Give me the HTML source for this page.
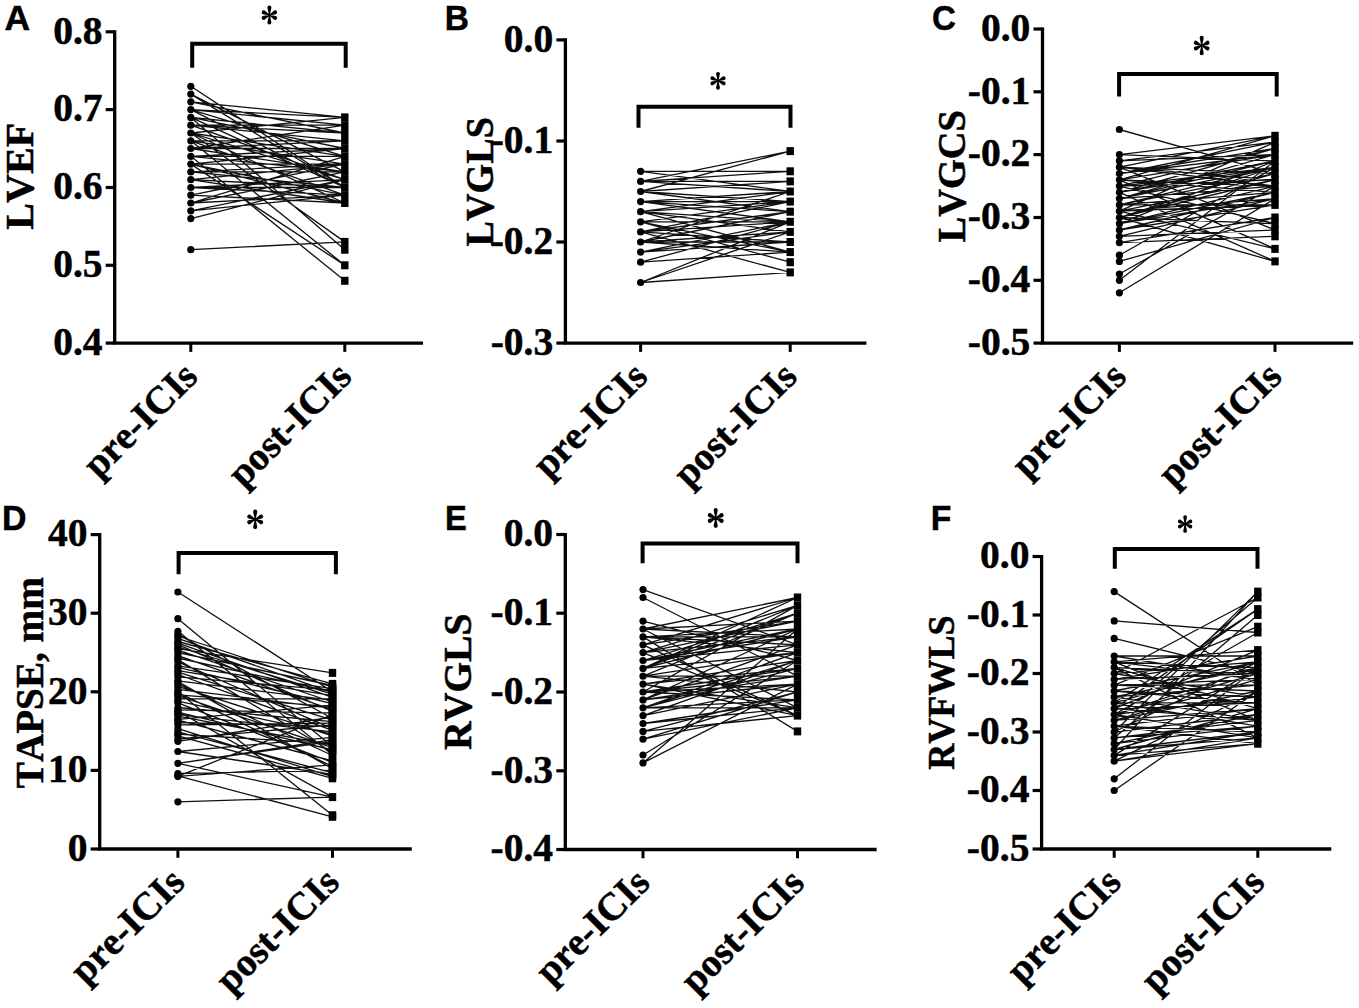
<!DOCTYPE html>
<html><head><meta charset="utf-8"><style>
html,body{margin:0;padding:0;background:#fff;overflow:hidden;}
svg{display:block;}
text{font-kerning:none;stroke:#000;stroke-width:0.5px;}
</style></head><body>
<svg width="1359" height="1008" viewBox="0 0 1359 1008">
<rect width="1359" height="1008" fill="#fff"/>
<g><path d="M190.8 249.7L344.8 241.9M190.8 156.3L344.8 280.8M190.8 140.8L344.8 265.3M190.8 164.1L344.8 265.3M190.8 117.4L344.8 249.7M190.8 133.0L344.8 241.9M190.8 86.3L344.8 187.5M190.8 94.1L344.8 171.9M190.8 109.6L344.8 117.4M190.8 171.9L344.8 164.1M190.8 210.8L344.8 195.2M190.8 148.5L344.8 140.8M190.8 148.5L344.8 125.2M190.8 171.9L344.8 171.9M190.8 164.1L344.8 148.5M190.8 156.3L344.8 171.9M190.8 156.3L344.8 171.9M190.8 117.4L344.8 187.5M190.8 109.6L344.8 156.3M190.8 117.4L344.8 148.5M190.8 133.0L344.8 117.4M190.8 117.4L344.8 133.0M190.8 203.0L344.8 156.3M190.8 125.2L344.8 140.8M190.8 140.8L344.8 164.1M190.8 164.1L344.8 203.0M190.8 171.9L344.8 187.5M190.8 179.7L344.8 164.1M190.8 187.5L344.8 187.5M190.8 109.6L344.8 187.5M190.8 203.0L344.8 195.2M190.8 140.8L344.8 195.2M190.8 218.6L344.8 179.7M190.8 101.8L344.8 133.0M190.8 187.5L344.8 179.7M190.8 140.8L344.8 140.8M190.8 195.2L344.8 203.0M190.8 148.5L344.8 148.5M190.8 179.7L344.8 187.5M190.8 195.2L344.8 203.0M190.8 101.8L344.8 117.4M190.8 187.5L344.8 195.2M190.8 133.0L344.8 179.7M190.8 125.2L344.8 133.0M190.8 109.6L344.8 125.2M190.8 156.3L344.8 156.3M190.8 148.5L344.8 171.9M190.8 179.7L344.8 203.0M190.8 94.1L344.8 187.5M190.8 133.0L344.8 203.0M190.8 171.9L344.8 171.9M190.8 210.8L344.8 179.7M190.8 125.2L344.8 179.7M190.8 164.1L344.8 164.1M190.8 203.0L344.8 171.9M190.8 133.0L344.8 156.3M190.8 164.1L344.8 195.2M190.8 140.8L344.8 140.8M190.8 187.5L344.8 195.2M190.8 218.6L344.8 179.7M190.8 195.2L344.8 164.1M190.8 156.3L344.8 148.5M190.8 125.2L344.8 125.2" stroke="#111" stroke-width="1.3" fill="none"/>
<g fill="#000">
<circle cx="190.8" cy="249.7" r="3.6"/>
<circle cx="190.8" cy="218.6" r="3.6"/>
<circle cx="190.8" cy="210.8" r="3.6"/>
<circle cx="190.8" cy="203.0" r="3.6"/>
<circle cx="190.8" cy="195.2" r="3.6"/>
<circle cx="190.8" cy="187.5" r="3.6"/>
<circle cx="190.8" cy="179.7" r="3.6"/>
<circle cx="190.8" cy="171.9" r="3.6"/>
<circle cx="190.8" cy="164.1" r="3.6"/>
<circle cx="190.8" cy="156.3" r="3.6"/>
<circle cx="190.8" cy="148.5" r="3.6"/>
<circle cx="190.8" cy="140.8" r="3.6"/>
<circle cx="190.8" cy="133.0" r="3.6"/>
<circle cx="190.8" cy="125.2" r="3.6"/>
<circle cx="190.8" cy="117.4" r="3.6"/>
<circle cx="190.8" cy="109.6" r="3.6"/>
<circle cx="190.8" cy="101.8" r="3.6"/>
<circle cx="190.8" cy="94.1" r="3.6"/>
<circle cx="190.8" cy="86.3" r="3.6"/>
<rect x="341.1" y="276.8" width="7.4" height="8.0"/>
<rect x="341.1" y="261.3" width="7.4" height="8.0"/>
<rect x="341.1" y="245.7" width="7.4" height="8.0"/>
<rect x="341.1" y="237.9" width="7.4" height="8.0"/>
<rect x="341.1" y="199.0" width="7.4" height="8.0"/>
<rect x="341.1" y="191.2" width="7.4" height="8.0"/>
<rect x="341.1" y="183.5" width="7.4" height="8.0"/>
<rect x="341.1" y="175.7" width="7.4" height="8.0"/>
<rect x="341.1" y="167.9" width="7.4" height="8.0"/>
<rect x="341.1" y="160.1" width="7.4" height="8.0"/>
<rect x="341.1" y="152.3" width="7.4" height="8.0"/>
<rect x="341.1" y="144.5" width="7.4" height="8.0"/>
<rect x="341.1" y="136.8" width="7.4" height="8.0"/>
<rect x="341.1" y="129.0" width="7.4" height="8.0"/>
<rect x="341.1" y="121.2" width="7.4" height="8.0"/>
<rect x="341.1" y="113.4" width="7.4" height="8.0"/>
</g>
<path d="M114.7 30.2V343.1H423" stroke="#000" stroke-width="3.3" fill="none"/>
<path d="M105.7 31.8H114.7" stroke="#000" stroke-width="3.2"/>
<text x="102.5" y="43.6" text-anchor="end" font-family="'Liberation Serif', serif" font-weight="bold" font-size="39.5">0.8</text>
<path d="M105.7 109.6H114.7" stroke="#000" stroke-width="3.2"/>
<text x="102.5" y="121.4" text-anchor="end" font-family="'Liberation Serif', serif" font-weight="bold" font-size="39.5">0.7</text>
<path d="M105.7 187.5H114.7" stroke="#000" stroke-width="3.2"/>
<text x="102.5" y="199.3" text-anchor="end" font-family="'Liberation Serif', serif" font-weight="bold" font-size="39.5">0.6</text>
<path d="M105.7 265.3H114.7" stroke="#000" stroke-width="3.2"/>
<text x="102.5" y="277.1" text-anchor="end" font-family="'Liberation Serif', serif" font-weight="bold" font-size="39.5">0.5</text>
<path d="M105.7 343.1H114.7" stroke="#000" stroke-width="3.2"/>
<text x="102.5" y="354.9" text-anchor="end" font-family="'Liberation Serif', serif" font-weight="bold" font-size="39.5">0.4</text>
<path d="M190.8 343.1v8.8" stroke="#000" stroke-width="3"/>
<path d="M344.8 343.1v8.8" stroke="#000" stroke-width="3"/>
<text transform="translate(199.6,378.4) rotate(-45)" text-anchor="end" font-family="'Liberation Serif', serif" font-weight="bold" font-size="39">pre-ICIs</text>
<text transform="translate(353.6,378.4) rotate(-45)" text-anchor="end" font-family="'Liberation Serif', serif" font-weight="bold" font-size="39">post-ICIs</text>
<path d="M192.2 67.7V43.7H345.7V67.7" stroke="#000" stroke-width="4.0" fill="none"/>
<path transform="translate(269.4,15.1) scale(1.000,1.022)" d="M0.45,0.00L2.00,-7.30A2.0,2.0 0 1 0 -2.00,-7.30L-0.45,-0.00ZM-0.45,-0.00L-2.00,7.30A2.0,2.0 0 1 0 2.00,7.30L0.45,0.00ZM0.19,-0.41L-4.77,-4.43A2.0,2.0 0 1 0 -6.46,-0.81L-0.19,0.41ZM-0.19,-0.41L-6.46,0.81A2.0,2.0 0 1 0 -4.77,4.43L0.19,0.41ZM0.19,0.41L6.46,-0.81A2.0,2.0 0 1 0 4.77,-4.43L-0.19,-0.41ZM-0.19,0.41L4.77,4.43A2.0,2.0 0 1 0 6.46,0.81L0.19,-0.41Z" fill="#000"/><circle cx="269.4" cy="15.1" r="1.3"/>
<text transform="translate(33.3,229.7) rotate(-90)" textLength="106.8" lengthAdjust="spacingAndGlyphs" font-family="'Liberation Serif', serif" font-weight="bold" font-size="39.5">LVEF</text>
<text x="4.42" y="29.8" textLength="25.62" lengthAdjust="spacingAndGlyphs" font-family="'Liberation Sans', sans-serif" font-weight="bold" font-size="35">A</text></g>
<g><path d="M640.6 171.3L790.2 171.3M640.6 181.4L790.2 151.1M640.6 191.5L790.2 151.1M640.6 282.5L790.2 272.4M640.6 282.5L790.2 231.9M640.6 282.5L790.2 221.8M640.6 221.8L790.2 262.2M640.6 242.0L790.2 231.9M640.6 242.0L790.2 242.0M640.6 242.0L790.2 242.0M640.6 252.1L790.2 242.0M640.6 171.3L790.2 191.5M640.6 221.8L790.2 252.1M640.6 231.9L790.2 201.6M640.6 252.1L790.2 221.8M640.6 242.0L790.2 242.0M640.6 181.4L790.2 181.4M640.6 242.0L790.2 252.1M640.6 211.7L790.2 231.9M640.6 262.2L790.2 252.1M640.6 181.4L790.2 181.4M640.6 201.6L790.2 201.6M640.6 221.8L790.2 252.1M640.6 231.9L790.2 221.8M640.6 211.7L790.2 221.8M640.6 201.6L790.2 211.7M640.6 231.9L790.2 211.7M640.6 221.8L790.2 262.2M640.6 211.7L790.2 252.1M640.6 231.9L790.2 272.4M640.6 231.9L790.2 201.6M640.6 252.1L790.2 231.9M640.6 191.5L790.2 211.7M640.6 201.6L790.2 211.7M640.6 191.5L790.2 181.4M640.6 262.2L790.2 221.8M640.6 211.7L790.2 231.9M640.6 252.1L790.2 231.9M640.6 242.0L790.2 191.5M640.6 221.8L790.2 201.6M640.6 252.1L790.2 242.0M640.6 211.7L790.2 201.6M640.6 181.4L790.2 191.5M640.6 211.7L790.2 191.5M640.6 201.6L790.2 191.5M640.6 191.5L790.2 201.6M640.6 221.8L790.2 221.8M640.6 252.1L790.2 231.9M640.6 191.5L790.2 211.7M640.6 201.6L790.2 191.5M640.6 231.9L790.2 242.0M640.6 242.0L790.2 211.7M640.6 181.4L790.2 171.3M640.6 201.6L790.2 221.8M640.6 191.5L790.2 181.4" stroke="#111" stroke-width="1.3" fill="none"/>
<g fill="#000">
<circle cx="640.6" cy="282.5" r="3.6"/>
<circle cx="640.6" cy="262.2" r="3.6"/>
<circle cx="640.6" cy="252.1" r="3.6"/>
<circle cx="640.6" cy="242.0" r="3.6"/>
<circle cx="640.6" cy="231.9" r="3.6"/>
<circle cx="640.6" cy="221.8" r="3.6"/>
<circle cx="640.6" cy="211.7" r="3.6"/>
<circle cx="640.6" cy="201.6" r="3.6"/>
<circle cx="640.6" cy="191.5" r="3.6"/>
<circle cx="640.6" cy="181.4" r="3.6"/>
<circle cx="640.6" cy="171.3" r="3.6"/>
<rect x="786.5" y="268.4" width="7.4" height="8.0"/>
<rect x="786.5" y="258.2" width="7.4" height="8.0"/>
<rect x="786.5" y="248.1" width="7.4" height="8.0"/>
<rect x="786.5" y="238.0" width="7.4" height="8.0"/>
<rect x="786.5" y="227.9" width="7.4" height="8.0"/>
<rect x="786.5" y="217.8" width="7.4" height="8.0"/>
<rect x="786.5" y="207.7" width="7.4" height="8.0"/>
<rect x="786.5" y="197.6" width="7.4" height="8.0"/>
<rect x="786.5" y="187.5" width="7.4" height="8.0"/>
<rect x="786.5" y="177.4" width="7.4" height="8.0"/>
<rect x="786.5" y="167.3" width="7.4" height="8.0"/>
<rect x="786.5" y="147.1" width="7.4" height="8.0"/>
</g>
<path d="M565.4 38.3V343.1H866.4" stroke="#000" stroke-width="3.3" fill="none"/>
<path d="M556.4 39.9H565.4" stroke="#000" stroke-width="3.2"/>
<text x="553.2" y="51.7" text-anchor="end" font-family="'Liberation Serif', serif" font-weight="bold" font-size="39.5">0.0</text>
<path d="M556.4 141.0H565.4" stroke="#000" stroke-width="3.2"/>
<text x="553.2" y="152.8" text-anchor="end" font-family="'Liberation Serif', serif" font-weight="bold" font-size="39.5">-0.1</text>
<path d="M556.4 242.0H565.4" stroke="#000" stroke-width="3.2"/>
<text x="553.2" y="253.8" text-anchor="end" font-family="'Liberation Serif', serif" font-weight="bold" font-size="39.5">-0.2</text>
<path d="M556.4 343.1H565.4" stroke="#000" stroke-width="3.2"/>
<text x="553.2" y="354.9" text-anchor="end" font-family="'Liberation Serif', serif" font-weight="bold" font-size="39.5">-0.3</text>
<path d="M640.6 343.1v8.8" stroke="#000" stroke-width="3"/>
<path d="M790.2 343.1v8.8" stroke="#000" stroke-width="3"/>
<text transform="translate(649.4,378.4) rotate(-45)" text-anchor="end" font-family="'Liberation Serif', serif" font-weight="bold" font-size="39">pre-ICIs</text>
<text transform="translate(799.0,378.4) rotate(-45)" text-anchor="end" font-family="'Liberation Serif', serif" font-weight="bold" font-size="39">post-ICIs</text>
<path d="M638.5 127.7V106.7H790.5V127.7" stroke="#000" stroke-width="4.0" fill="none"/>
<path transform="translate(718.0,80.8) scale(0.987,0.957)" d="M0.45,0.00L2.00,-7.30A2.0,2.0 0 1 0 -2.00,-7.30L-0.45,-0.00ZM-0.45,-0.00L-2.00,7.30A2.0,2.0 0 1 0 2.00,7.30L0.45,0.00ZM0.19,-0.41L-4.77,-4.43A2.0,2.0 0 1 0 -6.46,-0.81L-0.19,0.41ZM-0.19,-0.41L-6.46,0.81A2.0,2.0 0 1 0 -4.77,4.43L0.19,0.41ZM0.19,0.41L6.46,-0.81A2.0,2.0 0 1 0 4.77,-4.43L-0.19,-0.41ZM-0.19,0.41L4.77,4.43A2.0,2.0 0 1 0 6.46,0.81L0.19,-0.41Z" fill="#000"/><circle cx="718.0" cy="80.8" r="1.3"/>
<text transform="translate(493.0,246.5) rotate(-90)" textLength="129.4" lengthAdjust="spacingAndGlyphs" font-family="'Liberation Serif', serif" font-weight="bold" font-size="39.5">LVGLS</text>
<text x="444.66" y="29.8" textLength="24.16" lengthAdjust="spacingAndGlyphs" font-family="'Liberation Sans', sans-serif" font-weight="bold" font-size="35">B</text></g>
<g><path d="M1119.4 129.5L1275.0 173.5M1119.4 292.8L1275.0 198.6M1119.4 280.3L1275.0 160.9M1119.4 274.0L1275.0 186.1M1119.4 261.4L1275.0 217.5M1119.4 255.2L1275.0 167.2M1119.4 192.3L1275.0 261.4M1119.4 179.8L1275.0 248.9M1119.4 211.2L1275.0 248.9M1119.4 217.5L1275.0 261.4M1119.4 167.2L1275.0 230.0M1119.4 186.1L1275.0 223.7M1119.4 192.3L1275.0 160.9M1119.4 217.5L1275.0 173.5M1119.4 186.1L1275.0 148.4M1119.4 173.5L1275.0 154.6M1119.4 223.7L1275.0 192.3M1119.4 160.9L1275.0 154.6M1119.4 173.5L1275.0 142.1M1119.4 230.0L1275.0 204.9M1119.4 179.8L1275.0 154.6M1119.4 223.7L1275.0 186.1M1119.4 173.5L1275.0 148.4M1119.4 167.2L1275.0 186.1M1119.4 217.5L1275.0 167.2M1119.4 192.3L1275.0 167.2M1119.4 242.6L1275.0 236.3M1119.4 242.6L1275.0 217.5M1119.4 236.3L1275.0 230.0M1119.4 198.6L1275.0 167.2M1119.4 167.2L1275.0 135.8M1119.4 186.1L1275.0 148.4M1119.4 179.8L1275.0 186.1M1119.4 217.5L1275.0 223.7M1119.4 167.2L1275.0 173.5M1119.4 198.6L1275.0 186.1M1119.4 198.6L1275.0 160.9M1119.4 204.9L1275.0 173.5M1119.4 179.8L1275.0 135.8M1119.4 211.2L1275.0 179.8M1119.4 211.2L1275.0 198.6M1119.4 167.2L1275.0 179.8M1119.4 160.9L1275.0 142.1M1119.4 223.7L1275.0 160.9M1119.4 236.3L1275.0 198.6M1119.4 186.1L1275.0 179.8M1119.4 211.2L1275.0 142.1M1119.4 154.6L1275.0 160.9M1119.4 186.1L1275.0 167.2M1119.4 204.9L1275.0 204.9M1119.4 211.2L1275.0 204.9M1119.4 217.5L1275.0 179.8M1119.4 198.6L1275.0 154.6M1119.4 179.8L1275.0 192.3M1119.4 192.3L1275.0 148.4M1119.4 192.3L1275.0 160.9M1119.4 204.9L1275.0 167.2M1119.4 173.5L1275.0 154.6M1119.4 154.6L1275.0 135.8M1119.4 223.7L1275.0 198.6M1119.4 204.9L1275.0 192.3M1119.4 230.0L1275.0 192.3" stroke="#111" stroke-width="1.3" fill="none"/>
<g fill="#000">
<circle cx="1119.4" cy="292.8" r="3.6"/>
<circle cx="1119.4" cy="280.3" r="3.6"/>
<circle cx="1119.4" cy="274.0" r="3.6"/>
<circle cx="1119.4" cy="261.4" r="3.6"/>
<circle cx="1119.4" cy="255.2" r="3.6"/>
<circle cx="1119.4" cy="242.6" r="3.6"/>
<circle cx="1119.4" cy="236.3" r="3.6"/>
<circle cx="1119.4" cy="230.0" r="3.6"/>
<circle cx="1119.4" cy="223.7" r="3.6"/>
<circle cx="1119.4" cy="217.5" r="3.6"/>
<circle cx="1119.4" cy="211.2" r="3.6"/>
<circle cx="1119.4" cy="204.9" r="3.6"/>
<circle cx="1119.4" cy="198.6" r="3.6"/>
<circle cx="1119.4" cy="192.3" r="3.6"/>
<circle cx="1119.4" cy="186.1" r="3.6"/>
<circle cx="1119.4" cy="179.8" r="3.6"/>
<circle cx="1119.4" cy="173.5" r="3.6"/>
<circle cx="1119.4" cy="167.2" r="3.6"/>
<circle cx="1119.4" cy="160.9" r="3.6"/>
<circle cx="1119.4" cy="154.6" r="3.6"/>
<circle cx="1119.4" cy="129.5" r="3.6"/>
<rect x="1271.3" y="257.4" width="7.4" height="8.0"/>
<rect x="1271.3" y="244.9" width="7.4" height="8.0"/>
<rect x="1271.3" y="232.3" width="7.4" height="8.0"/>
<rect x="1271.3" y="226.0" width="7.4" height="8.0"/>
<rect x="1271.3" y="219.7" width="7.4" height="8.0"/>
<rect x="1271.3" y="213.5" width="7.4" height="8.0"/>
<rect x="1271.3" y="200.9" width="7.4" height="8.0"/>
<rect x="1271.3" y="194.6" width="7.4" height="8.0"/>
<rect x="1271.3" y="188.3" width="7.4" height="8.0"/>
<rect x="1271.3" y="182.1" width="7.4" height="8.0"/>
<rect x="1271.3" y="175.8" width="7.4" height="8.0"/>
<rect x="1271.3" y="169.5" width="7.4" height="8.0"/>
<rect x="1271.3" y="163.2" width="7.4" height="8.0"/>
<rect x="1271.3" y="156.9" width="7.4" height="8.0"/>
<rect x="1271.3" y="150.6" width="7.4" height="8.0"/>
<rect x="1271.3" y="144.4" width="7.4" height="8.0"/>
<rect x="1271.3" y="138.1" width="7.4" height="8.0"/>
<rect x="1271.3" y="131.8" width="7.4" height="8.0"/>
</g>
<path d="M1042.5 27.4V343.1H1353.2" stroke="#000" stroke-width="3.3" fill="none"/>
<path d="M1033.5 29.0H1042.5" stroke="#000" stroke-width="3.2"/>
<text x="1030.3" y="40.8" text-anchor="end" font-family="'Liberation Serif', serif" font-weight="bold" font-size="39.5">0.0</text>
<path d="M1033.5 91.8H1042.5" stroke="#000" stroke-width="3.2"/>
<text x="1030.3" y="103.6" text-anchor="end" font-family="'Liberation Serif', serif" font-weight="bold" font-size="39.5">-0.1</text>
<path d="M1033.5 154.6H1042.5" stroke="#000" stroke-width="3.2"/>
<text x="1030.3" y="166.4" text-anchor="end" font-family="'Liberation Serif', serif" font-weight="bold" font-size="39.5">-0.2</text>
<path d="M1033.5 217.5H1042.5" stroke="#000" stroke-width="3.2"/>
<text x="1030.3" y="229.3" text-anchor="end" font-family="'Liberation Serif', serif" font-weight="bold" font-size="39.5">-0.3</text>
<path d="M1033.5 280.3H1042.5" stroke="#000" stroke-width="3.2"/>
<text x="1030.3" y="292.1" text-anchor="end" font-family="'Liberation Serif', serif" font-weight="bold" font-size="39.5">-0.4</text>
<path d="M1033.5 343.1H1042.5" stroke="#000" stroke-width="3.2"/>
<text x="1030.3" y="354.9" text-anchor="end" font-family="'Liberation Serif', serif" font-weight="bold" font-size="39.5">-0.5</text>
<path d="M1119.4 343.1v8.8" stroke="#000" stroke-width="3"/>
<path d="M1275 343.1v8.8" stroke="#000" stroke-width="3"/>
<text transform="translate(1128.2,378.4) rotate(-45)" text-anchor="end" font-family="'Liberation Serif', serif" font-weight="bold" font-size="39">pre-ICIs</text>
<text transform="translate(1283.8,378.4) rotate(-45)" text-anchor="end" font-family="'Liberation Serif', serif" font-weight="bold" font-size="39">post-ICIs</text>
<path d="M1119.1 96.4V74.1H1276.7V96.4" stroke="#000" stroke-width="4.0" fill="none"/>
<path transform="translate(1201.7,45.6) scale(1.019,1.048)" d="M0.45,0.00L2.00,-7.30A2.0,2.0 0 1 0 -2.00,-7.30L-0.45,-0.00ZM-0.45,-0.00L-2.00,7.30A2.0,2.0 0 1 0 2.00,7.30L0.45,0.00ZM0.19,-0.41L-4.77,-4.43A2.0,2.0 0 1 0 -6.46,-0.81L-0.19,0.41ZM-0.19,-0.41L-6.46,0.81A2.0,2.0 0 1 0 -4.77,4.43L0.19,0.41ZM0.19,0.41L6.46,-0.81A2.0,2.0 0 1 0 4.77,-4.43L-0.19,-0.41ZM-0.19,0.41L4.77,4.43A2.0,2.0 0 1 0 6.46,0.81L0.19,-0.41Z" fill="#000"/><circle cx="1201.7" cy="45.6" r="1.3"/>
<text transform="translate(964.7,242.4) rotate(-90)" textLength="132.3" lengthAdjust="spacingAndGlyphs" font-family="'Liberation Serif', serif" font-weight="bold" font-size="39.5">LVGCS</text>
<text x="932.04" y="29.8" textLength="23.86" lengthAdjust="spacingAndGlyphs" font-family="'Liberation Sans', sans-serif" font-weight="bold" font-size="35">C</text></g>
<g><path d="M177.9 592.0L332.5 691.8M177.9 618.7L332.5 746.8M177.9 631.3L332.5 754.7M177.9 801.8L332.5 797.1M177.9 775.9L332.5 816.8M177.9 711.5L332.5 797.1M177.9 691.8L332.5 815.2M177.9 648.6L332.5 672.9M177.9 763.3L332.5 797.1M177.9 644.6L332.5 711.5M177.9 643.1L332.5 697.3M177.9 724.8L332.5 723.2M177.9 652.5L332.5 685.5M177.9 680.8L332.5 700.4M177.9 683.9L332.5 755.5M177.9 701.2L332.5 734.2M177.9 763.3L332.5 739.7M177.9 692.6L332.5 766.5M177.9 731.9L332.5 772.8M177.9 661.9L332.5 728.7M177.9 776.3L332.5 764.9M177.9 686.3L332.5 735.8M177.9 734.2L332.5 743.7M177.9 707.5L332.5 721.7M177.9 655.6L332.5 709.9M177.9 763.3L332.5 741.3M177.9 698.9L332.5 698.9M177.9 674.5L332.5 730.3M177.9 773.5L332.5 770.4M177.9 658.0L332.5 691.8M177.9 676.9L332.5 690.2M177.9 636.0L332.5 687.1M177.9 694.9L332.5 706.7M177.9 720.1L332.5 761.0M177.9 776.3L332.5 714.6M177.9 667.4L332.5 703.6M177.9 735.8L332.5 778.3M177.9 702.8L332.5 762.5M177.9 641.5L332.5 683.9M177.9 689.4L332.5 708.3M177.9 647.0L332.5 694.2M177.9 665.9L332.5 688.7M177.9 634.4L332.5 718.5M177.9 659.6L332.5 752.3M177.9 739.0L332.5 724.8M177.9 722.5L332.5 726.4M177.9 670.6L332.5 695.7M177.9 672.1L332.5 720.1M177.9 741.3L332.5 717.0M177.9 695.7L332.5 747.6M177.9 719.3L332.5 705.2M177.9 728.7L332.5 776.7M177.9 638.4L332.5 692.6M177.9 751.5L332.5 737.4M177.9 712.2L332.5 750.0M177.9 716.2L332.5 745.2M177.9 709.9L332.5 713.0M177.9 714.6L332.5 731.9M177.9 650.1L332.5 702.0M177.9 681.6L332.5 768.8M177.9 751.5L332.5 774.3" stroke="#111" stroke-width="1.3" fill="none"/>
<g fill="#000">
<circle cx="177.9" cy="801.8" r="3.6"/>
<circle cx="177.9" cy="776.3" r="3.6"/>
<circle cx="177.9" cy="775.9" r="3.6"/>
<circle cx="177.9" cy="773.5" r="3.6"/>
<circle cx="177.9" cy="763.3" r="3.6"/>
<circle cx="177.9" cy="751.5" r="3.6"/>
<circle cx="177.9" cy="741.3" r="3.6"/>
<circle cx="177.9" cy="739.0" r="3.6"/>
<circle cx="177.9" cy="735.8" r="3.6"/>
<circle cx="177.9" cy="734.2" r="3.6"/>
<circle cx="177.9" cy="731.9" r="3.6"/>
<circle cx="177.9" cy="728.7" r="3.6"/>
<circle cx="177.9" cy="724.8" r="3.6"/>
<circle cx="177.9" cy="722.5" r="3.6"/>
<circle cx="177.9" cy="720.1" r="3.6"/>
<circle cx="177.9" cy="719.3" r="3.6"/>
<circle cx="177.9" cy="716.2" r="3.6"/>
<circle cx="177.9" cy="714.6" r="3.6"/>
<circle cx="177.9" cy="712.2" r="3.6"/>
<circle cx="177.9" cy="711.5" r="3.6"/>
<circle cx="177.9" cy="709.9" r="3.6"/>
<circle cx="177.9" cy="707.5" r="3.6"/>
<circle cx="177.9" cy="702.8" r="3.6"/>
<circle cx="177.9" cy="701.2" r="3.6"/>
<circle cx="177.9" cy="698.9" r="3.6"/>
<circle cx="177.9" cy="695.7" r="3.6"/>
<circle cx="177.9" cy="694.9" r="3.6"/>
<circle cx="177.9" cy="692.6" r="3.6"/>
<circle cx="177.9" cy="691.8" r="3.6"/>
<circle cx="177.9" cy="689.4" r="3.6"/>
<circle cx="177.9" cy="686.3" r="3.6"/>
<circle cx="177.9" cy="683.9" r="3.6"/>
<circle cx="177.9" cy="681.6" r="3.6"/>
<circle cx="177.9" cy="680.8" r="3.6"/>
<circle cx="177.9" cy="676.9" r="3.6"/>
<circle cx="177.9" cy="674.5" r="3.6"/>
<circle cx="177.9" cy="672.1" r="3.6"/>
<circle cx="177.9" cy="670.6" r="3.6"/>
<circle cx="177.9" cy="667.4" r="3.6"/>
<circle cx="177.9" cy="665.9" r="3.6"/>
<circle cx="177.9" cy="661.9" r="3.6"/>
<circle cx="177.9" cy="659.6" r="3.6"/>
<circle cx="177.9" cy="658.0" r="3.6"/>
<circle cx="177.9" cy="655.6" r="3.6"/>
<circle cx="177.9" cy="652.5" r="3.6"/>
<circle cx="177.9" cy="650.1" r="3.6"/>
<circle cx="177.9" cy="648.6" r="3.6"/>
<circle cx="177.9" cy="647.0" r="3.6"/>
<circle cx="177.9" cy="644.6" r="3.6"/>
<circle cx="177.9" cy="643.1" r="3.6"/>
<circle cx="177.9" cy="641.5" r="3.6"/>
<circle cx="177.9" cy="638.4" r="3.6"/>
<circle cx="177.9" cy="636.0" r="3.6"/>
<circle cx="177.9" cy="634.4" r="3.6"/>
<circle cx="177.9" cy="631.3" r="3.6"/>
<circle cx="177.9" cy="618.7" r="3.6"/>
<circle cx="177.9" cy="592.0" r="3.6"/>
<rect x="328.8" y="812.8" width="7.4" height="8.0"/>
<rect x="328.8" y="811.2" width="7.4" height="8.0"/>
<rect x="328.8" y="793.1" width="7.4" height="8.0"/>
<rect x="328.8" y="774.3" width="7.4" height="8.0"/>
<rect x="328.8" y="772.7" width="7.4" height="8.0"/>
<rect x="328.8" y="770.3" width="7.4" height="8.0"/>
<rect x="328.8" y="768.8" width="7.4" height="8.0"/>
<rect x="328.8" y="766.4" width="7.4" height="8.0"/>
<rect x="328.8" y="764.8" width="7.4" height="8.0"/>
<rect x="328.8" y="762.5" width="7.4" height="8.0"/>
<rect x="328.8" y="760.9" width="7.4" height="8.0"/>
<rect x="328.8" y="758.5" width="7.4" height="8.0"/>
<rect x="328.8" y="757.0" width="7.4" height="8.0"/>
<rect x="328.8" y="751.5" width="7.4" height="8.0"/>
<rect x="328.8" y="750.7" width="7.4" height="8.0"/>
<rect x="328.8" y="748.3" width="7.4" height="8.0"/>
<rect x="328.8" y="746.0" width="7.4" height="8.0"/>
<rect x="328.8" y="743.6" width="7.4" height="8.0"/>
<rect x="328.8" y="742.8" width="7.4" height="8.0"/>
<rect x="328.8" y="741.2" width="7.4" height="8.0"/>
<rect x="328.8" y="739.7" width="7.4" height="8.0"/>
<rect x="328.8" y="737.3" width="7.4" height="8.0"/>
<rect x="328.8" y="735.7" width="7.4" height="8.0"/>
<rect x="328.8" y="733.4" width="7.4" height="8.0"/>
<rect x="328.8" y="731.8" width="7.4" height="8.0"/>
<rect x="328.8" y="730.2" width="7.4" height="8.0"/>
<rect x="328.8" y="727.9" width="7.4" height="8.0"/>
<rect x="328.8" y="726.3" width="7.4" height="8.0"/>
<rect x="328.8" y="724.7" width="7.4" height="8.0"/>
<rect x="328.8" y="722.4" width="7.4" height="8.0"/>
<rect x="328.8" y="720.8" width="7.4" height="8.0"/>
<rect x="328.8" y="719.2" width="7.4" height="8.0"/>
<rect x="328.8" y="717.7" width="7.4" height="8.0"/>
<rect x="328.8" y="716.1" width="7.4" height="8.0"/>
<rect x="328.8" y="714.5" width="7.4" height="8.0"/>
<rect x="328.8" y="713.0" width="7.4" height="8.0"/>
<rect x="328.8" y="710.6" width="7.4" height="8.0"/>
<rect x="328.8" y="709.0" width="7.4" height="8.0"/>
<rect x="328.8" y="707.5" width="7.4" height="8.0"/>
<rect x="328.8" y="705.9" width="7.4" height="8.0"/>
<rect x="328.8" y="704.3" width="7.4" height="8.0"/>
<rect x="328.8" y="702.7" width="7.4" height="8.0"/>
<rect x="328.8" y="701.2" width="7.4" height="8.0"/>
<rect x="328.8" y="699.6" width="7.4" height="8.0"/>
<rect x="328.8" y="698.0" width="7.4" height="8.0"/>
<rect x="328.8" y="696.4" width="7.4" height="8.0"/>
<rect x="328.8" y="694.9" width="7.4" height="8.0"/>
<rect x="328.8" y="693.3" width="7.4" height="8.0"/>
<rect x="328.8" y="691.7" width="7.4" height="8.0"/>
<rect x="328.8" y="690.2" width="7.4" height="8.0"/>
<rect x="328.8" y="688.6" width="7.4" height="8.0"/>
<rect x="328.8" y="687.8" width="7.4" height="8.0"/>
<rect x="328.8" y="686.2" width="7.4" height="8.0"/>
<rect x="328.8" y="684.7" width="7.4" height="8.0"/>
<rect x="328.8" y="683.1" width="7.4" height="8.0"/>
<rect x="328.8" y="681.5" width="7.4" height="8.0"/>
<rect x="328.8" y="679.9" width="7.4" height="8.0"/>
<rect x="328.8" y="668.9" width="7.4" height="8.0"/>
</g>
<path d="M99.7 533.0V849H411.8" stroke="#000" stroke-width="3.3" fill="none"/>
<path d="M90.7 534.6H99.7" stroke="#000" stroke-width="3.2"/>
<text x="87.5" y="546.4" text-anchor="end" font-family="'Liberation Serif', serif" font-weight="bold" font-size="39.5">40</text>
<path d="M90.7 613.2H99.7" stroke="#000" stroke-width="3.2"/>
<text x="87.5" y="625.0" text-anchor="end" font-family="'Liberation Serif', serif" font-weight="bold" font-size="39.5">30</text>
<path d="M90.7 691.8H99.7" stroke="#000" stroke-width="3.2"/>
<text x="87.5" y="703.6" text-anchor="end" font-family="'Liberation Serif', serif" font-weight="bold" font-size="39.5">20</text>
<path d="M90.7 770.4H99.7" stroke="#000" stroke-width="3.2"/>
<text x="87.5" y="782.2" text-anchor="end" font-family="'Liberation Serif', serif" font-weight="bold" font-size="39.5">10</text>
<path d="M90.7 849.0H99.7" stroke="#000" stroke-width="3.2"/>
<text x="87.5" y="860.8" text-anchor="end" font-family="'Liberation Serif', serif" font-weight="bold" font-size="39.5">0</text>
<path d="M177.9 849v8.8" stroke="#000" stroke-width="3"/>
<path d="M332.5 849v8.8" stroke="#000" stroke-width="3"/>
<text transform="translate(186.7,884.3) rotate(-45)" text-anchor="end" font-family="'Liberation Serif', serif" font-weight="bold" font-size="39">pre-ICIs</text>
<text transform="translate(341.3,884.3) rotate(-45)" text-anchor="end" font-family="'Liberation Serif', serif" font-weight="bold" font-size="39">post-ICIs</text>
<path d="M178.6 574.2V552.9H335.9V574.2" stroke="#000" stroke-width="4.0" fill="none"/>
<path transform="translate(255.2,519.4) scale(1.032,1.054)" d="M0.45,0.00L2.00,-7.30A2.0,2.0 0 1 0 -2.00,-7.30L-0.45,-0.00ZM-0.45,-0.00L-2.00,7.30A2.0,2.0 0 1 0 2.00,7.30L0.45,0.00ZM0.19,-0.41L-4.77,-4.43A2.0,2.0 0 1 0 -6.46,-0.81L-0.19,0.41ZM-0.19,-0.41L-6.46,0.81A2.0,2.0 0 1 0 -4.77,4.43L0.19,0.41ZM0.19,0.41L6.46,-0.81A2.0,2.0 0 1 0 4.77,-4.43L-0.19,-0.41ZM-0.19,0.41L4.77,4.43A2.0,2.0 0 1 0 6.46,0.81L0.19,-0.41Z" fill="#000"/><circle cx="255.2" cy="519.4" r="1.3"/>
<text transform="translate(43.4,788.2) rotate(-90)" textLength="211.0" lengthAdjust="spacingAndGlyphs" font-family="'Liberation Serif', serif" font-weight="bold" font-size="39.5">TAPSE, mm</text>
<text x="1.93" y="529.7" textLength="24.49" lengthAdjust="spacingAndGlyphs" font-family="'Liberation Sans', sans-serif" font-weight="bold" font-size="35">D</text></g>
<g><path d="M643.0 589.6L797.5 644.8M643.0 597.5L797.5 676.2M643.0 762.9L797.5 629.0M643.0 755.0L797.5 660.5M643.0 636.9L797.5 731.4M643.0 629.0L797.5 707.8M643.0 762.9L797.5 684.1M643.0 660.5L797.5 636.9M643.0 684.1L797.5 660.5M643.0 636.9L797.5 629.0M643.0 684.1L797.5 668.4M643.0 699.9L797.5 629.0M643.0 660.5L797.5 644.8M643.0 692.0L797.5 684.1M643.0 699.9L797.5 676.2M643.0 660.5L797.5 613.2M643.0 636.9L797.5 644.8M643.0 668.4L797.5 613.2M643.0 636.9L797.5 652.6M643.0 676.2L797.5 692.0M643.0 723.5L797.5 707.8M643.0 692.0L797.5 605.4M643.0 676.2L797.5 613.2M643.0 692.0L797.5 699.9M643.0 676.2L797.5 652.6M643.0 707.8L797.5 660.5M643.0 652.6L797.5 605.4M643.0 699.9L797.5 644.8M643.0 699.9L797.5 684.1M643.0 739.2L797.5 692.0M643.0 684.1L797.5 715.6M643.0 621.1L797.5 660.5M643.0 699.9L797.5 684.1M643.0 636.9L797.5 636.9M643.0 644.8L797.5 715.6M643.0 668.4L797.5 629.0M643.0 692.0L797.5 668.4M643.0 739.2L797.5 707.8M643.0 715.6L797.5 684.1M643.0 731.4L797.5 715.6M643.0 652.6L797.5 605.4M643.0 644.8L797.5 621.1M643.0 707.8L797.5 652.6M643.0 629.0L797.5 597.5M643.0 723.5L797.5 699.9M643.0 692.0L797.5 676.2M643.0 707.8L797.5 699.9M643.0 731.4L797.5 692.0M643.0 668.4L797.5 597.5M643.0 644.8L797.5 597.5M643.0 676.2L797.5 613.2M643.0 668.4L797.5 605.4M643.0 660.5L797.5 629.0M643.0 629.0L797.5 636.9M643.0 684.1L797.5 707.8M643.0 652.6L797.5 621.1M643.0 652.6L797.5 715.6M643.0 644.8L797.5 621.1M643.0 629.0L797.5 621.1M643.0 676.2L797.5 676.2M643.0 668.4L797.5 652.6M643.0 684.1L797.5 668.4M643.0 707.8L797.5 707.8M643.0 660.5L797.5 644.8M643.0 707.8L797.5 668.4M643.0 715.6L797.5 660.5M643.0 652.6L797.5 636.9" stroke="#111" stroke-width="1.3" fill="none"/>
<g fill="#000">
<circle cx="643.0" cy="762.9" r="3.6"/>
<circle cx="643.0" cy="755.0" r="3.6"/>
<circle cx="643.0" cy="739.2" r="3.6"/>
<circle cx="643.0" cy="731.4" r="3.6"/>
<circle cx="643.0" cy="723.5" r="3.6"/>
<circle cx="643.0" cy="715.6" r="3.6"/>
<circle cx="643.0" cy="707.8" r="3.6"/>
<circle cx="643.0" cy="699.9" r="3.6"/>
<circle cx="643.0" cy="692.0" r="3.6"/>
<circle cx="643.0" cy="684.1" r="3.6"/>
<circle cx="643.0" cy="676.2" r="3.6"/>
<circle cx="643.0" cy="668.4" r="3.6"/>
<circle cx="643.0" cy="660.5" r="3.6"/>
<circle cx="643.0" cy="652.6" r="3.6"/>
<circle cx="643.0" cy="644.8" r="3.6"/>
<circle cx="643.0" cy="636.9" r="3.6"/>
<circle cx="643.0" cy="629.0" r="3.6"/>
<circle cx="643.0" cy="621.1" r="3.6"/>
<circle cx="643.0" cy="597.5" r="3.6"/>
<circle cx="643.0" cy="589.6" r="3.6"/>
<rect x="793.8" y="727.4" width="7.4" height="8.0"/>
<rect x="793.8" y="711.6" width="7.4" height="8.0"/>
<rect x="793.8" y="703.8" width="7.4" height="8.0"/>
<rect x="793.8" y="695.9" width="7.4" height="8.0"/>
<rect x="793.8" y="688.0" width="7.4" height="8.0"/>
<rect x="793.8" y="680.1" width="7.4" height="8.0"/>
<rect x="793.8" y="672.2" width="7.4" height="8.0"/>
<rect x="793.8" y="664.4" width="7.4" height="8.0"/>
<rect x="793.8" y="656.5" width="7.4" height="8.0"/>
<rect x="793.8" y="648.6" width="7.4" height="8.0"/>
<rect x="793.8" y="640.8" width="7.4" height="8.0"/>
<rect x="793.8" y="632.9" width="7.4" height="8.0"/>
<rect x="793.8" y="625.0" width="7.4" height="8.0"/>
<rect x="793.8" y="617.1" width="7.4" height="8.0"/>
<rect x="793.8" y="609.2" width="7.4" height="8.0"/>
<rect x="793.8" y="601.4" width="7.4" height="8.0"/>
<rect x="793.8" y="593.5" width="7.4" height="8.0"/>
</g>
<path d="M565.3 532.9V849.5H876.6" stroke="#000" stroke-width="3.3" fill="none"/>
<path d="M556.3 534.5H565.3" stroke="#000" stroke-width="3.2"/>
<text x="553.1" y="546.3" text-anchor="end" font-family="'Liberation Serif', serif" font-weight="bold" font-size="39.5">0.0</text>
<path d="M556.3 613.2H565.3" stroke="#000" stroke-width="3.2"/>
<text x="553.1" y="625.0" text-anchor="end" font-family="'Liberation Serif', serif" font-weight="bold" font-size="39.5">-0.1</text>
<path d="M556.3 692.0H565.3" stroke="#000" stroke-width="3.2"/>
<text x="553.1" y="703.8" text-anchor="end" font-family="'Liberation Serif', serif" font-weight="bold" font-size="39.5">-0.2</text>
<path d="M556.3 770.8H565.3" stroke="#000" stroke-width="3.2"/>
<text x="553.1" y="782.5" text-anchor="end" font-family="'Liberation Serif', serif" font-weight="bold" font-size="39.5">-0.3</text>
<path d="M556.3 849.5H565.3" stroke="#000" stroke-width="3.2"/>
<text x="553.1" y="861.3" text-anchor="end" font-family="'Liberation Serif', serif" font-weight="bold" font-size="39.5">-0.4</text>
<path d="M643 849.5v8.8" stroke="#000" stroke-width="3"/>
<path d="M797.5 849.5v8.8" stroke="#000" stroke-width="3"/>
<text transform="translate(651.8,884.8) rotate(-45)" text-anchor="end" font-family="'Liberation Serif', serif" font-weight="bold" font-size="39">pre-ICIs</text>
<text transform="translate(806.3,884.8) rotate(-45)" text-anchor="end" font-family="'Liberation Serif', serif" font-weight="bold" font-size="39">post-ICIs</text>
<path d="M642.6 563.2V543.4H797.5V563.2" stroke="#000" stroke-width="4.0" fill="none"/>
<path transform="translate(715.7,518.0) scale(1.032,1.070)" d="M0.45,0.00L2.00,-7.30A2.0,2.0 0 1 0 -2.00,-7.30L-0.45,-0.00ZM-0.45,-0.00L-2.00,7.30A2.0,2.0 0 1 0 2.00,7.30L0.45,0.00ZM0.19,-0.41L-4.77,-4.43A2.0,2.0 0 1 0 -6.46,-0.81L-0.19,0.41ZM-0.19,-0.41L-6.46,0.81A2.0,2.0 0 1 0 -4.77,4.43L0.19,0.41ZM0.19,0.41L6.46,-0.81A2.0,2.0 0 1 0 4.77,-4.43L-0.19,-0.41ZM-0.19,0.41L4.77,4.43A2.0,2.0 0 1 0 6.46,0.81L0.19,-0.41Z" fill="#000"/><circle cx="715.7" cy="518.0" r="1.3"/>
<text transform="translate(471.0,749.9) rotate(-90)" textLength="136.4" lengthAdjust="spacingAndGlyphs" font-family="'Liberation Serif', serif" font-weight="bold" font-size="39.5">RVGLS</text>
<text x="444.92" y="529.7" textLength="21.76" lengthAdjust="spacingAndGlyphs" font-family="'Liberation Sans', sans-serif" font-weight="bold" font-size="35">E</text></g>
<g><path d="M1114.2 591.6L1257.8 685.2M1114.2 620.9L1257.8 632.5M1114.2 638.4L1257.8 673.5M1114.2 790.5L1257.8 691.0M1114.2 778.8L1257.8 667.6M1114.2 732.0L1257.8 591.6M1114.2 720.3L1257.8 597.5M1114.2 702.8L1257.8 609.1M1114.2 737.9L1257.8 615.0M1114.2 685.2L1257.8 626.7M1114.2 749.5L1257.8 591.6M1114.2 714.5L1257.8 632.5M1114.2 673.5L1257.8 597.5M1114.2 708.6L1257.8 609.1M1114.2 749.5L1257.8 708.6M1114.2 702.8L1257.8 726.1M1114.2 656.0L1257.8 656.0M1114.2 749.5L1257.8 732.0M1114.2 685.2L1257.8 685.2M1114.2 720.3L1257.8 679.4M1114.2 696.9L1257.8 685.2M1114.2 702.8L1257.8 702.8M1114.2 749.5L1257.8 737.9M1114.2 720.3L1257.8 691.0M1114.2 708.6L1257.8 702.8M1114.2 714.5L1257.8 737.9M1114.2 702.8L1257.8 726.1M1114.2 661.8L1257.8 650.1M1114.2 761.2L1257.8 743.7M1114.2 679.4L1257.8 656.0M1114.2 661.8L1257.8 679.4M1114.2 761.2L1257.8 691.0M1114.2 667.6L1257.8 673.5M1114.2 726.1L1257.8 732.0M1114.2 673.5L1257.8 696.9M1114.2 679.4L1257.8 673.5M1114.2 726.1L1257.8 708.6M1114.2 732.0L1257.8 714.5M1114.2 691.0L1257.8 702.8M1114.2 708.6L1257.8 650.1M1114.2 667.6L1257.8 708.6M1114.2 761.2L1257.8 737.9M1114.2 743.7L1257.8 714.5M1114.2 661.8L1257.8 667.6M1114.2 673.5L1257.8 696.9M1114.2 708.6L1257.8 720.3M1114.2 743.7L1257.8 714.5M1114.2 714.5L1257.8 667.6M1114.2 743.7L1257.8 726.1M1114.2 685.2L1257.8 685.2M1114.2 726.1L1257.8 743.7M1114.2 696.9L1257.8 667.6M1114.2 685.2L1257.8 679.4M1114.2 726.1L1257.8 732.0M1114.2 691.0L1257.8 661.8M1114.2 691.0L1257.8 696.9M1114.2 673.5L1257.8 661.8M1114.2 720.3L1257.8 708.6M1114.2 667.6L1257.8 737.9M1114.2 732.0L1257.8 661.8M1114.2 667.6L1257.8 673.5M1114.2 661.8L1257.8 720.3M1114.2 737.9L1257.8 726.1M1114.2 685.2L1257.8 691.0M1114.2 755.4L1257.8 732.0M1114.2 708.6L1257.8 702.8M1114.2 714.5L1257.8 696.9M1114.2 732.0L1257.8 714.5M1114.2 737.9L1257.8 720.3M1114.2 755.4L1257.8 667.6M1114.2 696.9L1257.8 720.3M1114.2 656.0L1257.8 679.4M1114.2 696.9L1257.8 685.2M1114.2 679.4L1257.8 656.0M1114.2 755.4L1257.8 743.7M1114.2 702.8L1257.8 661.8M1114.2 720.3L1257.8 691.0M1114.2 714.5L1257.8 673.5" stroke="#111" stroke-width="1.3" fill="none"/>
<g fill="#000">
<circle cx="1114.2" cy="790.5" r="3.6"/>
<circle cx="1114.2" cy="778.8" r="3.6"/>
<circle cx="1114.2" cy="761.2" r="3.6"/>
<circle cx="1114.2" cy="755.4" r="3.6"/>
<circle cx="1114.2" cy="749.5" r="3.6"/>
<circle cx="1114.2" cy="743.7" r="3.6"/>
<circle cx="1114.2" cy="737.9" r="3.6"/>
<circle cx="1114.2" cy="732.0" r="3.6"/>
<circle cx="1114.2" cy="726.1" r="3.6"/>
<circle cx="1114.2" cy="720.3" r="3.6"/>
<circle cx="1114.2" cy="714.5" r="3.6"/>
<circle cx="1114.2" cy="708.6" r="3.6"/>
<circle cx="1114.2" cy="702.8" r="3.6"/>
<circle cx="1114.2" cy="696.9" r="3.6"/>
<circle cx="1114.2" cy="691.0" r="3.6"/>
<circle cx="1114.2" cy="685.2" r="3.6"/>
<circle cx="1114.2" cy="679.4" r="3.6"/>
<circle cx="1114.2" cy="673.5" r="3.6"/>
<circle cx="1114.2" cy="667.6" r="3.6"/>
<circle cx="1114.2" cy="661.8" r="3.6"/>
<circle cx="1114.2" cy="656.0" r="3.6"/>
<circle cx="1114.2" cy="638.4" r="3.6"/>
<circle cx="1114.2" cy="620.9" r="3.6"/>
<circle cx="1114.2" cy="591.6" r="3.6"/>
<rect x="1254.1" y="739.7" width="7.4" height="8.0"/>
<rect x="1254.1" y="733.9" width="7.4" height="8.0"/>
<rect x="1254.1" y="728.0" width="7.4" height="8.0"/>
<rect x="1254.1" y="722.1" width="7.4" height="8.0"/>
<rect x="1254.1" y="716.3" width="7.4" height="8.0"/>
<rect x="1254.1" y="710.5" width="7.4" height="8.0"/>
<rect x="1254.1" y="704.6" width="7.4" height="8.0"/>
<rect x="1254.1" y="698.8" width="7.4" height="8.0"/>
<rect x="1254.1" y="692.9" width="7.4" height="8.0"/>
<rect x="1254.1" y="687.0" width="7.4" height="8.0"/>
<rect x="1254.1" y="681.2" width="7.4" height="8.0"/>
<rect x="1254.1" y="675.4" width="7.4" height="8.0"/>
<rect x="1254.1" y="669.5" width="7.4" height="8.0"/>
<rect x="1254.1" y="663.6" width="7.4" height="8.0"/>
<rect x="1254.1" y="657.8" width="7.4" height="8.0"/>
<rect x="1254.1" y="652.0" width="7.4" height="8.0"/>
<rect x="1254.1" y="646.1" width="7.4" height="8.0"/>
<rect x="1254.1" y="628.5" width="7.4" height="8.0"/>
<rect x="1254.1" y="622.7" width="7.4" height="8.0"/>
<rect x="1254.1" y="611.0" width="7.4" height="8.0"/>
<rect x="1254.1" y="605.1" width="7.4" height="8.0"/>
<rect x="1254.1" y="593.5" width="7.4" height="8.0"/>
<rect x="1254.1" y="587.6" width="7.4" height="8.0"/>
</g>
<path d="M1041.6 554.9V849H1331.3" stroke="#000" stroke-width="3.3" fill="none"/>
<path d="M1032.6 556.5H1041.6" stroke="#000" stroke-width="3.2"/>
<text x="1029.4" y="568.3" text-anchor="end" font-family="'Liberation Serif', serif" font-weight="bold" font-size="39.5">0.0</text>
<path d="M1032.6 615.0H1041.6" stroke="#000" stroke-width="3.2"/>
<text x="1029.4" y="626.8" text-anchor="end" font-family="'Liberation Serif', serif" font-weight="bold" font-size="39.5">-0.1</text>
<path d="M1032.6 673.5H1041.6" stroke="#000" stroke-width="3.2"/>
<text x="1029.4" y="685.3" text-anchor="end" font-family="'Liberation Serif', serif" font-weight="bold" font-size="39.5">-0.2</text>
<path d="M1032.6 732.0H1041.6" stroke="#000" stroke-width="3.2"/>
<text x="1029.4" y="743.8" text-anchor="end" font-family="'Liberation Serif', serif" font-weight="bold" font-size="39.5">-0.3</text>
<path d="M1032.6 790.5H1041.6" stroke="#000" stroke-width="3.2"/>
<text x="1029.4" y="802.3" text-anchor="end" font-family="'Liberation Serif', serif" font-weight="bold" font-size="39.5">-0.4</text>
<path d="M1032.6 849.0H1041.6" stroke="#000" stroke-width="3.2"/>
<text x="1029.4" y="860.8" text-anchor="end" font-family="'Liberation Serif', serif" font-weight="bold" font-size="39.5">-0.5</text>
<path d="M1114.2 849v8.8" stroke="#000" stroke-width="3"/>
<path d="M1257.8 849v8.8" stroke="#000" stroke-width="3"/>
<text transform="translate(1123.0,884.3) rotate(-45)" text-anchor="end" font-family="'Liberation Serif', serif" font-weight="bold" font-size="39">pre-ICIs</text>
<text transform="translate(1266.6,884.3) rotate(-45)" text-anchor="end" font-family="'Liberation Serif', serif" font-weight="bold" font-size="39">post-ICIs</text>
<path d="M1114.8 568.7V548.9H1257.5V568.7" stroke="#000" stroke-width="4.0" fill="none"/>
<path transform="translate(1185.1,524.0) scale(0.936,0.946)" d="M0.45,0.00L2.00,-7.30A2.0,2.0 0 1 0 -2.00,-7.30L-0.45,-0.00ZM-0.45,-0.00L-2.00,7.30A2.0,2.0 0 1 0 2.00,7.30L0.45,0.00ZM0.19,-0.41L-4.77,-4.43A2.0,2.0 0 1 0 -6.46,-0.81L-0.19,0.41ZM-0.19,-0.41L-6.46,0.81A2.0,2.0 0 1 0 -4.77,4.43L0.19,0.41ZM0.19,0.41L6.46,-0.81A2.0,2.0 0 1 0 4.77,-4.43L-0.19,-0.41ZM-0.19,0.41L4.77,4.43A2.0,2.0 0 1 0 6.46,0.81L0.19,-0.41Z" fill="#000"/><circle cx="1185.1" cy="524.0" r="1.3"/>
<text transform="translate(954.2,769.8) rotate(-90)" textLength="154.5" lengthAdjust="spacingAndGlyphs" font-family="'Liberation Serif', serif" font-weight="bold" font-size="37.5">RVFWLS</text>
<text x="930.65" y="529.7" textLength="20.59" lengthAdjust="spacingAndGlyphs" font-family="'Liberation Sans', sans-serif" font-weight="bold" font-size="35">F</text></g>
</svg></body></html>
